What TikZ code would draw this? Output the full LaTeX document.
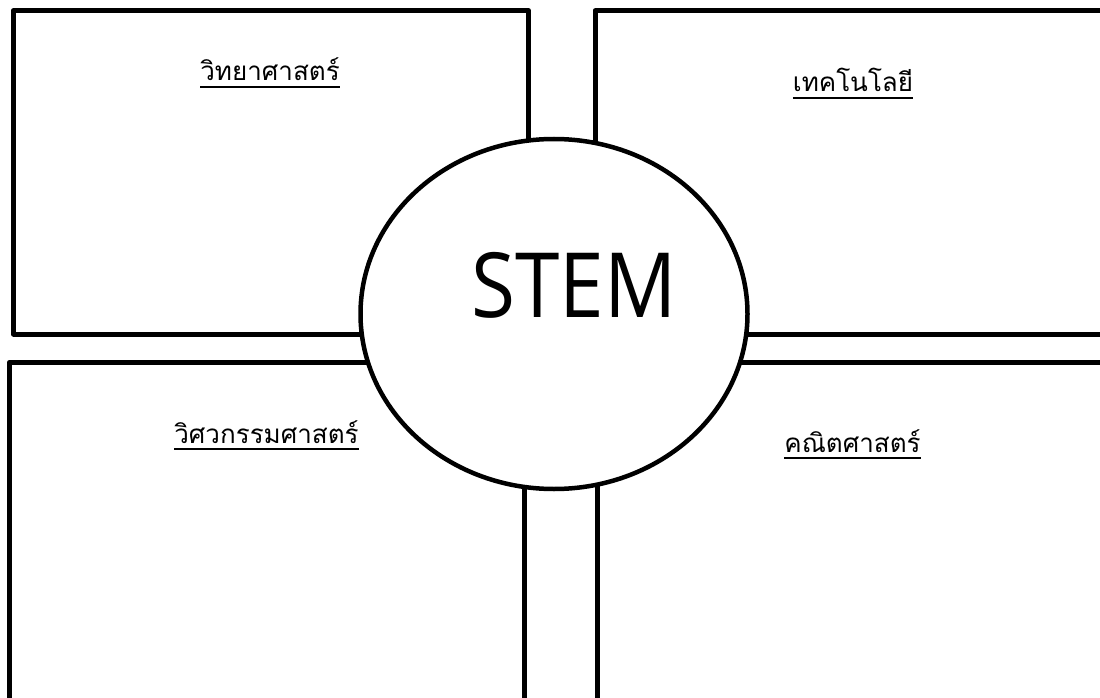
\documentclass[tikz,border=0pt]{standalone}
\usepackage{fontspec}
\setmainfont{Open Sans}
\newfontfamily\thaifont[Script=Thai]{Loma}
\usetikzlibrary{shapes.geometric}

% thick underline placed below the baseline of a label
\newcommand{\thaiul}[1]{\setbox0\hbox{#1}\rlap{\rule[-7pt]{\wd0}{2pt}}\box0}

\tikzset{
  panel/.style={draw=black, line width=5pt, line join=round},
  hub/.style={ellipse, draw=black, fill=white, line width=4.5pt,
    minimum width=387pt, minimum height=350pt, inner sep=0pt},
  hubtext/.style={anchor=base, inner sep=0pt, font=\fontsize{90}{90}\selectfont},
  topic/.style={anchor=base, inner sep=0pt, font=\thaifont\fontsize{26}{30}\selectfont}
}

\begin{document}
\begin{tikzpicture}[x=1pt, y=-1pt]
  \useasboundingbox (0,0) rectangle (1100,698);
  \clip (0,0) rectangle (1100,698);

  % four subject panels
  \draw[panel] (13.3,10.8) rectangle (528.5,334);
  \draw[panel] (595,10.8) rectangle (1120,334);
  \draw[panel] (9.2,362.5) rectangle (524.7,712);
  \draw[panel] (597,362.5) rectangle (1120,712);

  % central hub and its title
  \node[hub] (stem) at (554,314) {};
  \node[hubtext] (stemtitle) at (574,317) {\scalebox{0.89}[1]{STEM}};

  % panel headings
  \node[topic] (sci)  at (270,81)  {\thaiul{วิทยาศาสตร์}};
  \node[topic] (tech) at (853,92)  {\thaiul{เทคโนโลยี}};
  \node[topic] (eng)  at (266.5,443) {\thaiul{วิศวกรรมศาสตร์}};
  \node[topic] (math) at (852.5,452) {\thaiul{คณิตศาสตร์}};
\end{tikzpicture}
\end{document}
